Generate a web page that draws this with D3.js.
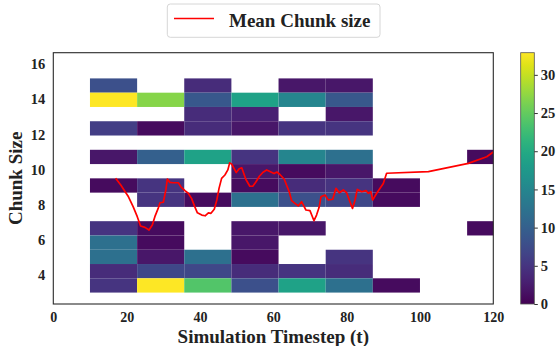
<!DOCTYPE html>
<html>
<head>
<meta charset="utf-8">
<script src="https://cdn.jsdelivr.net/npm/d3@7"></script>
<style>
  html, body { margin: 0; padding: 0; background: #fff; }
  text { font-family: "Liberation Serif", "Times New Roman", serif; font-weight: bold; fill: #222; }
</style>
</head>
<body>
<div id="chart"></div>
<script>
// Time bins (x) and chunk-size bins (y) of the 2D histogram
const timeEdges = [10, 22.86, 35.71, 48.57, 61.43, 74.29, 87.14, 100, 112.86, 125.71];
const chunkEdges = [3, 3.8125, 4.625, 5.4375, 6.25, 7.0625, 7.875, 8.6875, 9.5,
  10.3125, 11.125, 11.9375, 12.75, 13.5625, 14.375, 15.1875, 16];

// Counts per chunk size, one value per time bin (0 = no cell)
const chunkSizes = [16, 15, 14, 13, 12, 11, 10, 9, 8, 7, 6, 5, 4, 3];
const counts16 = [0, 0, 4, 2, 0, 1, 0, 1, 0];
const counts15 = [8, 0, 4, 0, 2, 2, 0, 0, 0];
const counts14 = [33, 27, 9, 19, 15, 9, 0, 0, 0];
const counts13 = [0, 0, 4, 3, 0, 2, 0, 0, 0];
const counts12 = [6, 1, 4, 2, 5, 5, 0, 0, 0];
const counts11 = [2, 10, 19, 5, 15, 12, 0, 0, 1];
const counts10 = [0, 0, 0, 2, 1, 2, 0, 0, 0];
const counts9 = [1, 5, 0, 1, 4, 5, 1, 0, 0];
const counts8 = [0, 5, 1, 12, 8, 7, 1, 0, 0];
const counts7 = [5, 1, 0, 2, 2, 0, 0, 0, 1];
const counts6 = [12, 1, 0, 2, 0, 0, 0, 0, 0];
const counts5 = [12, 2, 12, 1, 0, 5, 0, 0, 0];
const counts4 = [4, 7, 7, 4, 5, 4, 0, 0, 0];
const counts3 = [5, 33, 24, 8, 19, 12, 1, 0, 0];
const countRows = [counts16, counts15, counts14, counts13, counts12, counts11, counts10,
  counts9, counts8, counts7, counts6, counts5, counts4, counts3];

// Mean chunk size line
const lineT = [17.0, 18.4, 19.6, 20.5, 21.8, 22.9, 23.8, 25.0, 26.1, 27.0, 27.7, 28.6, 29.1,
  30.0, 30.7, 31.1, 31.8, 32.7, 34.1, 34.8, 35.9, 36.8, 37.7, 38.6, 39.3, 40.5, 41.4, 42.3,
  43.0, 43.9, 44.6, 45.2, 45.9, 46.8, 47.6, 48.1, 48.7, 49.9, 50.7, 51.4, 52.5, 53.6, 54.4,
  55.2, 56.2, 57.2, 58.2, 59.2, 60.2, 61.0, 61.8, 63.0, 63.8, 64.4, 65.0, 65.9, 66.8, 67.7,
  68.9, 70.0, 71.1, 71.8, 72.5, 73.0, 74.1, 75.0, 76.2, 77.1, 78.0, 79.1, 80.0, 80.9, 81.6,
  82.3, 82.9, 84.1, 85.3, 85.9, 86.6, 87.1, 88.2, 89.3, 90.0, 90.9, 102.3, 113.2, 118.2, 120.0];
const lineMean = [9.50, 9.12, 8.74, 8.45, 7.88, 7.32, 6.79, 6.71, 6.56, 6.84, 7.32, 7.79, 8.11,
  8.14, 8.84, 9.46, 9.27, 9.25, 9.25, 9.02, 8.80, 8.65, 8.36, 7.88, 7.54, 7.41, 7.37, 7.54,
  7.51, 7.74, 8.27, 8.93, 9.50, 9.69, 9.98, 10.38, 10.30, 9.83, 10.05, 10.10, 9.45, 9.05, 9.05,
  9.28, 9.62, 9.85, 9.98, 9.88, 9.77, 9.86, 9.72, 9.45, 9.02, 8.70, 8.23, 8.08, 7.93, 8.17,
  7.70, 7.66, 7.09, 7.41, 7.85, 8.45, 8.55, 8.27, 8.31, 8.93, 8.68, 8.84, 8.68, 8.17, 7.79,
  8.27, 8.87, 8.74, 8.80, 8.65, 8.74, 8.27, 8.65, 8.99, 9.21, 9.79, 9.88, 10.35, 10.73, 11.0];

const xTicks = [0, 20, 40, 60, 80, 100, 120];
const yTicks = [4, 6, 8, 10, 12, 14, 16];
const cbarTicks = [0, 5, 10, 15, 20, 25, 30];

const width = 560, height = 346;
const plot = { left: 53.3, right: 493.3, top: 52.7, bottom: 304 };

const svg = d3.select('#chart')
  .append('svg')
  .attr('width', width)
  .attr('height', height);

svg.append('rect').attr('width', width).attr('height', height).attr('fill', '#fff');

const x = d3.scaleLinear().domain([0, 120]).range([plot.left, plot.right]);
const y = d3.scaleLinear().domain([2.35, 16.65]).range([plot.bottom, plot.top]);
const color = d3.scaleSequential(d3.interpolateViridis).domain([0, 33]);

svg.append('clipPath').attr('id', 'clip')
  .append('rect')
  .attr('x', plot.left).attr('y', plot.top)
  .attr('width', plot.right - plot.left).attr('height', plot.bottom - plot.top);

const plotG = svg.append('g').attr('clip-path', 'url(#clip)');

// Flatten the histogram into cells
const cells = [];
chunkSizes.forEach((c, i) => {
  const b = d3.bisectRight(chunkEdges, c) - 1;
  countRows[i].forEach((v, j) => {
    if (v > 0) cells.push({ x0: timeEdges[j], x1: timeEdges[j + 1], y0: chunkEdges[b], y1: chunkEdges[b + 1], v: v });
  });
});

plotG.selectAll('rect.cell')
  .data(cells)
  .enter()
  .append('rect')
  .attr('class', 'cell')
  .attr('x', (d) => x(d.x0))
  .attr('y', (d) => y(d.y1))
  .attr('width', (d) => x(d.x1) - x(d.x0))
  .attr('height', (d) => y(d.y0) - y(d.y1))
  .attr('fill', (d) => color(d.v));

const line = d3.line()
  .x((d) => x(d[0]))
  .y((d) => y(d[1]));

plotG.append('path')
  .datum(d3.zip(lineT, lineMean))
  .attr('d', line)
  .attr('fill', 'none')
  .attr('stroke', 'red')
  .attr('stroke-width', 1.7)
  .attr('stroke-linejoin', 'round');

// Frame
svg.append('rect')
  .attr('x', plot.left).attr('y', plot.top)
  .attr('width', plot.right - plot.left).attr('height', plot.bottom - plot.top)
  .attr('fill', 'none')
  .attr('stroke', '#2a2a2a')
  .attr('stroke-width', 1.1);

// Axes
const xAxis = svg.append('g')
  .attr('transform', 'translate(0,' + plot.bottom + ')')
  .call(d3.axisBottom(x).tickValues(xTicks).tickSize(0).tickPadding(8.5));
xAxis.select('.domain').remove();
xAxis.selectAll('text').style('font-size', '14px').style('font-family', '"Liberation Serif", serif');

const yAxis = svg.append('g')
  .attr('transform', 'translate(' + plot.left + ',0)')
  .call(d3.axisLeft(y).tickValues(yTicks).tickSize(0).tickPadding(8));
yAxis.select('.domain').remove();
yAxis.selectAll('text').style('font-size', '14.5px').style('font-family', '"Liberation Serif", serif');

svg.append('text')
  .attr('x', (plot.left + plot.right) / 2)
  .attr('y', 343)
  .attr('text-anchor', 'middle')
  .style('font-size', '19px')
  .text('Simulation Timestep (t)');

svg.append('text')
  .attr('transform', 'translate(22,' + ((plot.top + plot.bottom) / 2) + ') rotate(-90)')
  .attr('text-anchor', 'middle')
  .style('font-size', '19px')
  .text('Chunk Size');

// Colorbar
const cbar = { left: 520.7, width: 13.6 };
const cy = d3.scaleLinear().domain([0, 32.9]).range([plot.bottom, plot.top]);

const grad = svg.append('defs').append('linearGradient')
  .attr('id', 'cbarGrad')
  .attr('x1', 0).attr('y1', 1).attr('x2', 0).attr('y2', 0);
grad.selectAll('stop')
  .data(d3.range(0, 1.0001, 0.05))
  .enter()
  .append('stop')
  .attr('offset', (d) => d)
  .attr('stop-color', (d) => d3.interpolateViridis(d));

svg.append('rect')
  .attr('x', cbar.left).attr('y', plot.top)
  .attr('width', cbar.width).attr('height', plot.bottom - plot.top)
  .attr('fill', 'url(#cbarGrad)')
  .attr('stroke', '#555')
  .attr('stroke-width', 0.8);

const cAxis = svg.append('g')
  .attr('transform', 'translate(' + (cbar.left + cbar.width) + ',0)')
  .call(d3.axisRight(cy).tickValues(cbarTicks).tickSize(3.5).tickPadding(3));
cAxis.select('.domain').remove();
cAxis.selectAll('line').attr('stroke', '#333');
cAxis.selectAll('text').style('font-size', '14.5px').style('font-family', '"Liberation Serif", serif');

// Legend
const legend = svg.append('g');
legend.append('rect')
  .attr('x', 167.3).attr('y', 4)
  .attr('width', 212.7).attr('height', 33.3)
  .attr('rx', 3)
  .attr('fill', '#fff')
  .attr('stroke', '#d6d6d6');
legend.append('line')
  .attr('x1', 174).attr('x2', 214)
  .attr('y1', 18.5).attr('y2', 18.5)
  .attr('stroke', 'red')
  .attr('stroke-width', 1.7);
legend.append('text')
  .attr('x', 229).attr('y', 26.5)
  .style('font-size', '19px')
  .text('Mean Chunk size');
</script>
</body>
</html>
